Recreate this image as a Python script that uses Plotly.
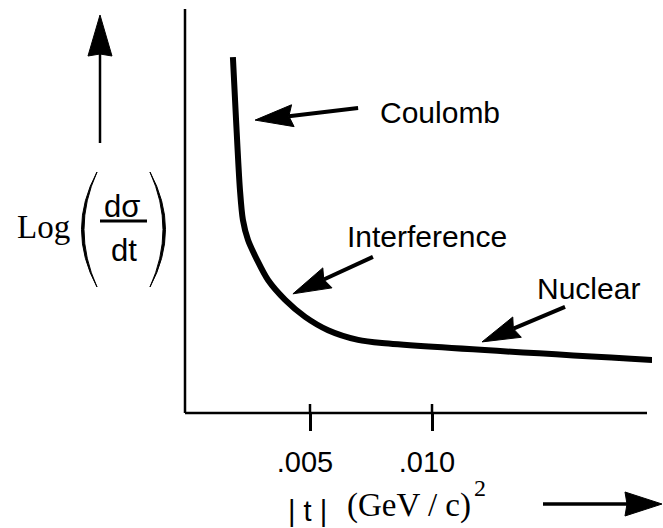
import math
import plotly.graph_objects as go

# |t| in (GeV/c)^2 and log(dσ/dt) in arbitrary units
t_vals = [0.00184, 0.00197, 0.00213, 0.00225, 0.00246, 0.00283, 0.00328,
          0.00398, 0.00480, 0.00574, 0.00697, 0.00795, 0.01902]
log_xsec = [8.81, 7.25, 5.52, 4.78, 4.28, 3.79, 3.29,
            2.80, 2.38, 2.05, 1.81, 1.73, 1.31]

tick_vals = [0.005, 0.010]
tick_text = [".005", ".010"]

# region labels: name, label anchor (t, y), arrow tip on/near the curve (t, y)
region_names = ["Coulomb", "Interference", "Nuclear"]
label_pos = [(0.00779, 7.45), (0.00643, 4.38), (0.01422, 3.09)]
arrow_tips = [(0.00275, 7.25), (0.00430, 2.95), (0.01205, 1.76)]
arrow_tails_px = [(103, -12), (80, -37), (83, -35)]   # tail offset from tip, px

# plot frame (pixels)
FIG_W, FIG_H = 663, 528
L, T, W, H = 185, 9, 467, 404
X_RANGE = [-0.000123, 0.019016]
Y_RANGE = [0, 10]

SANS = "Liberation Sans, Arial, Helvetica, sans-serif"
SERIF = "Liberation Serif, Times New Roman, serif"


def to_paper(px, py):
    return (px - L) / W, (T + H - py) / H


def data_to_px(t, y):
    px = L + (t - X_RANGE[0]) / (X_RANGE[1] - X_RANGE[0]) * W
    py = T + (Y_RANGE[1] - y) / (Y_RANGE[1] - Y_RANGE[0]) * H
    return px, py


def path(points, close=False):
    pts = [to_paper(*p) for p in points]
    s = "M " + " L ".join(f"{x:.5f},{y:.5f}" for x, y in pts)
    return s + (" Z" if close else "")


def arrow_shapes(tip, tail, head_len, head_w, shaft_w, notch=4):
    dx, dy = tip[0] - tail[0], tip[1] - tail[1]
    d = math.hypot(dx, dy)
    ux, uy = dx / d, dy / d
    nx, ny = -uy, ux
    bx, by = tip[0] - ux * head_len, tip[1] - uy * head_len
    p1 = (bx + nx * head_w / 2, by + ny * head_w / 2)
    p2 = (bx - nx * head_w / 2, by - ny * head_w / 2)
    pn = (bx + ux * notch, by + uy * notch)
    return [
        dict(type="path", xref="paper", yref="paper", path=path([tail, pn]),
             line=dict(color="black", width=shaft_w)),
        dict(type="path", xref="paper", yref="paper",
             path=path([tip, p1, pn, p2], close=True),
             fillcolor="black", line=dict(color="black", width=1)),
    ]


fig = go.Figure()
fig.add_trace(go.Scatter(
    x=t_vals, y=log_xsec, mode="lines",
    line=dict(color="black", width=6, shape="spline", smoothing=0.8),
    hoverinfo="skip", showlegend=False,
))

shapes = []
# axis lines
shapes.append(dict(type="line", xref="paper", yref="paper", x0=0, x1=0, y0=0, y1=1,
                   line=dict(color="black", width=2.5)))
shapes.append(dict(type="line", xref="paper", yref="paper", x0=0, x1=(647 - L) / W, y0=0, y1=0,
                   line=dict(color="black", width=2.5)))
# upper half of the crossing tick marks
for tv in tick_vals:
    shapes.append(dict(type="line", xref="x", yref="paper", x0=tv, x1=tv, y0=0, y1=9 / H,
                       line=dict(color="black", width=2.5)))

# callout arrows
for tip, off in zip(arrow_tips, arrow_tails_px):
    tx, ty = data_to_px(*tip)
    shapes += arrow_shapes((tx, ty), (tx + off[0], ty + off[1]), 38, 22, 4)

# axis direction arrows
shapes += arrow_shapes((100, 15), (100, 143), 41, 24, 2.5, notch=2)
shapes += arrow_shapes((662, 504), (543, 504), 37, 24, 3.5, notch=2)


# parentheses around dσ/dt (filled crescents)
def paren(x_end, x_out, x_in, y0, y1):
    a = to_paper(x_end, y0)
    b = to_paper(x_end, y1)
    co = to_paper(x_out, (y0 + y1) / 2)
    ci = to_paper(x_in, (y0 + y1) / 2)
    return dict(type="path", xref="paper", yref="paper",
                path=(f"M {a[0]:.5f},{a[1]:.5f} Q {co[0]:.5f},{co[1]:.5f} {b[0]:.5f},{b[1]:.5f} "
                      f"Q {ci[0]:.5f},{ci[1]:.5f} {a[0]:.5f},{a[1]:.5f} Z"),
                fillcolor="black", line=dict(color="black", width=1))


shapes.append(paren(97, 66, 71, 172, 287))
shapes.append(paren(150, 181, 176, 172, 287))
# fraction bar
fb0, fb1 = to_paper(100, 221), to_paper(147, 221)
shapes.append(dict(type="line", xref="paper", yref="paper", x0=fb0[0], x1=fb1[0], y0=fb0[1], y1=fb1[1],
                   line=dict(color="black", width=3)))

annotations = []
for name, (lx, ly) in zip(region_names, label_pos):
    annotations.append(dict(x=lx, y=ly, xref="x", yref="y", text=name, showarrow=False,
                            xanchor="left", yanchor="middle",
                            font=dict(family=SANS, size=30, color="black")))


def paper_text(px, py, text, family, size, xanchor="center"):
    x, y = to_paper(px, py)
    return dict(x=x, y=y, xref="paper", yref="paper", text=text, showarrow=False,
                xanchor=xanchor, yanchor="middle", font=dict(family=family, size=size, color="black"))


annotations.append(paper_text(43, 227, "Log", SERIF, 33))
annotations.append(paper_text(122, 206, "dσ", SANS, 31))
annotations.append(paper_text(124, 250, "dt", SANS, 31))
annotations.append(paper_text(307, 511, "| t |", SANS, 29))
annotations.append(paper_text(345, 505, "(GeV / c)", SERIF, 33, xanchor="left"))
annotations.append(paper_text(472, 488, "2", SERIF, 24, xanchor="left"))

fig.update_layout(
    width=FIG_W, height=FIG_H,
    margin=dict(l=L, r=FIG_W - L - W, t=T, b=FIG_H - T - H, pad=0),
    paper_bgcolor="white", plot_bgcolor="white",
    shapes=shapes, annotations=annotations,
    xaxis=dict(range=X_RANGE, showgrid=False, zeroline=False, showline=False,
               tickmode="array", tickvals=tick_vals, ticktext=tick_text,
               ticks="outside", ticklen=17, tickwidth=2.5, tickcolor="black",
               tickfont=dict(family=SANS, size=29, color="black"),
               ticklabelstandoff=6, ticklabelshift=-5),
    yaxis=dict(range=Y_RANGE, showgrid=False, zeroline=False, showline=False,
               showticklabels=False, ticks=""),
)

fig.write_html("out.html")
